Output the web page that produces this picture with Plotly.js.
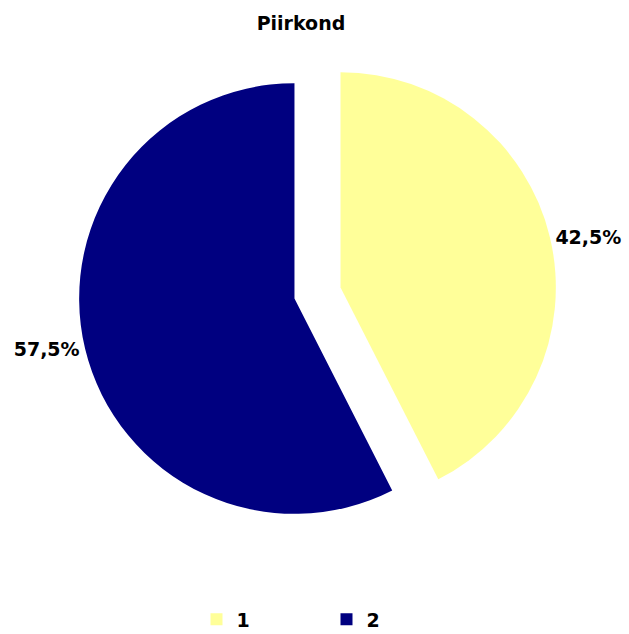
<!DOCTYPE html>
<html>
<head>
<meta charset="utf-8">
<script src="https://cdn.plot.ly/plotly-3.0.1.min.js"></script>
<style>html,body{margin:0;padding:0;background:#fff;}</style>
</head>
<body>
<div id="chart" style="width:629px;height:634px;"></div>
<script>
const categories = ["1", "2"];
const values = [42.5, 57.5];
const colors = ["#FFFF99", "#000080"];

const FONT = "DejaVu Sans, sans-serif";

Plotly.newPlot("chart", [{
  type: "pie",
  labels: categories,
  values: values,
  sort: false,
  direction: "clockwise",
  rotation: 0,
  pull: [0.11, 0.11],
  marker: {colors: colors, line: {width: 0}},
  textposition: "outside",
  texttemplate: "%{percent:.1%}",
  textfont: {family: FONT, size: 19, color: "#000", weight: "bold"},
  hoverinfo: "none"
}], {
  width: 629,
  height: 634,
  separators: ",.",
  margin: {l: 6, r: 0, t: 54, b: 102},
  paper_bgcolor: "#fff",
  title: {text: "<b>Piirkond</b>", font: {family: FONT, size: 19, color: "#000"}, x: 0.4785, xanchor: "center", xref: "container", y: 0.963, yanchor: "middle", yref: "container"},
  showlegend: true,
  legend: {
    orientation: "h",
    xref: "container", x: 0.3124, xanchor: "left",
    yref: "container", y: 0.023, yanchor: "middle",
    font: {family: FONT, size: 19, color: "#000", weight: "bold"},
    entrywidth: 85, entrywidthmode: "pixels",
    traceorder: "normal"
  }
}, {displayModeBar: false, staticPlot: true});
</script>
</body>
</html>
